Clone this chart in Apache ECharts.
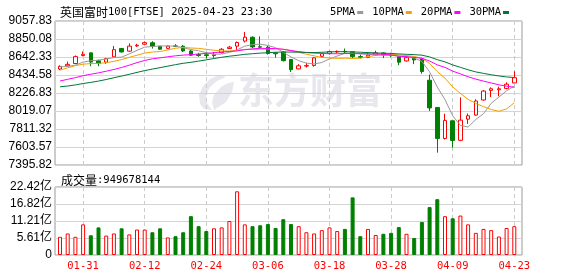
<!DOCTYPE html>
<html><head><meta charset="utf-8">
<script src="https://cdn.jsdelivr.net/npm/echarts@6/dist/echarts.min.js"></script>
<style>html,body{margin:0;padding:0;background:#fff;}#c{width:578px;height:276px;}</style>
</head><body><div id="c"></div>
<script>
const dates = ['2025-01-28','2025-01-29','2025-01-30','2025-01-31','2025-02-03','2025-02-04','2025-02-05','2025-02-06','2025-02-07','2025-02-10','2025-02-11','2025-02-12','2025-02-13','2025-02-14','2025-02-17','2025-02-18','2025-02-19','2025-02-20','2025-02-21','2025-02-24','2025-02-25','2025-02-26','2025-02-27','2025-02-28','2025-03-03','2025-03-04','2025-03-05','2025-03-06','2025-03-07','2025-03-10','2025-03-11','2025-03-12','2025-03-13','2025-03-14','2025-03-17','2025-03-18','2025-03-19','2025-03-20','2025-03-21','2025-03-24','2025-03-25','2025-03-26','2025-03-27','2025-03-28','2025-03-31','2025-04-01','2025-04-02','2025-04-03','2025-04-04','2025-04-07','2025-04-08','2025-04-09','2025-04-10','2025-04-11','2025-04-14','2025-04-15','2025-04-16','2025-04-17','2025-04-22','2025-04-23'];
const opens = [8503.7,8540,8567,8660,8690,8598,8583,8644,8741,8710,8770,8790,8807,8765,8742,8770,8767,8712,8670,8668,8659,8692,8740,8768,8826,8871,8760,8756,8690,8700,8613,8505,8538,8545,8650,8683,8700,8707,8702,8647,8638,8664,8689,8666,8645,8597,8635,8622,8374,8060,7702,7906,7681,7925,7972,8146,8257,8264,8280,8343];
const closes = [8533.87,8557.81,8646.88,8673.96,8583.56,8570.77,8623.29,8727.28,8700.53,8767.80,8777.39,8807.44,8764.72,8732.46,8768.01,8766.77,8712.53,8663.02,8659.37,8658.98,8668.67,8731.46,8756.21,8809.74,8871.31,8759.00,8755.84,8682.84,8679.88,8600.22,8495.99,8540.97,8542.56,8632.33,8680.29,8705.23,8706.66,8701.99,8646.79,8638.01,8663.80,8689.59,8666.12,8658.85,8582.81,8634.80,8608.48,8474.74,8054.98,7702.08,7910.53,7679.48,7913.25,7964.18,8134.34,8249.22,8275.60,8275.66,8328.60,8403.18];
const lows = [8490,8536,8563,8650,8536,8536,8563,8640,8695,8705,8760,8785,8740,8725,8735,8760,8700,8655,8645,8625,8635,8685,8735,8722,8810,8745,8740,8670,8635,8590,8470,8500,8520,8530,8640,8670,8690,8680,8630,8625,8630,8655,8630,8640,8547,8590,8560,8450,8020,7538,7690,7596,7670,7870,7965,8140,8180,8190,8270,8340];
const highs = [8547,8590,8660,8706,8694,8610,8632,8770,8745,8800,8795,8822,8825,8770,8775,8790,8780,8720,8690,8690,8700,8745,8770,8821,8930,8880,8880,8770,8695,8710,8615,8560,8575,8640,8690,8715,8718,8740,8705,8670,8700,8715,8695,8690,8650,8660,8640,8633,8440,8060,7987,7910,8176,7990,8155,8262,8292,8300,8350,8478];
// closes of the 29 sessions before the window (for the moving averages)
const prevCloses = [8300,8262,8195,8199,8105,8084,8102,8137,8149,8121,8173,8260,8224,8249,8245,8251,8319,8248,8224,8201,8301,8391,8505,8520,8548,8545,8565,8502,8503.7];
// volume in 亿 (1e8 shares)
const volumes = [6.0,7.1,6.0,10.1,6.5,9.1,6.4,7.1,8.8,6.8,8.4,8.4,7.5,8.8,5.8,6.2,7.5,12.8,9.5,7.9,8.8,9.1,11.2,21.0,10.1,9.5,9.8,10.2,8.9,11.8,10.2,9.5,7.5,7.1,8.2,9.1,7.9,8.6,19.0,6.2,8.6,6.6,7.0,7.3,9.2,7.0,5.6,10.9,15.8,18.4,12.8,12.1,13.0,10.1,7.3,8.6,8.2,6.1,8.9,9.49678144];
const priceTicks = [7395.82,7603.57,7811.32,8019.07,8226.83,8434.58,8642.33,8850.08,9057.83];
const volTicks = [0,5.605,11.21,16.815,22.42];
const volTickLabels = ['0','5.61亿','11.21亿','16.82亿','22.42亿'];
const maPeriods = [5,10,20,30];
const maNames = ['5PMA','10PMA','20PMA','30PMA'];
const maColors = ['#999999','#f5a000','#ff00ff','#00763a'];

const allCloses = prevCloses.concat(closes);
function ma(n){
  const out=[];
  for(let i=0;i<closes.length;i++){
    const end = prevCloses.length + i;
    let s=0; for(let k=end-n+1;k<=end;k++) s+=allCloses[k];
    out.push(+(s/n).toFixed(2));
  }
  return out;
}
const labelIdx = (i)=> i % 8 === 3;
const kData = dates.map((d,i)=>[opens[i],closes[i],lows[i],highs[i]]);
const volData = volumes.map((v,i)=>{
  const up = closes[i] >= opens[i];
  return {value:v, itemStyle: up ? {color:'#ffffff', borderColor:'#ff0000', borderWidth:1} : {color:'#008000', borderColor:'#008000', borderWidth:1}};
});
const mono = 'DejaVu Sans Mono';
const cjk = 'Noto Sans CJK SC';
const wm = '#e7e7ed';
const chart = echarts.init(document.getElementById('c'), null, {renderer:'canvas'});
const option = {
  animation:false,
  backgroundColor:'#fff',
  title:[
    {left:55, top:1, text:'{a|英国富时}{b|100[FTSE] 2025-04-23 23:30}',
     textStyle:{fontWeight:'normal', rich:{a:{fontFamily:cjk,fontSize:12,color:'#000',fontWeight:'normal'},b:{fontFamily:mono,fontSize:10.5,color:'#000',fontWeight:'normal'}}}},
    {left:56, top:169, text:'{a|成交量}{b|:' + Math.round(volumes[volumes.length-1]*1e8) + '}',
     textStyle:{fontWeight:'normal', rich:{a:{fontFamily:cjk,fontSize:12,color:'#000',fontWeight:'normal'},b:{fontFamily:mono,fontSize:10.5,color:'#000',fontWeight:'normal'}}}}
  ],
  legend:{right:64, top:2, align:'right', icon:'rect', itemWidth:6, itemHeight:3, itemGap:9,
    data:maNames, textStyle:{fontFamily:mono, fontSize:10.5, color:'#000', padding:[0,-3,0,0]}},
  graphic:[
    {type:'polygon', silent:true, z:0, shape:{points:[[219,75],[210,79],[203,86],[199,95],[200,104],[204,109],[212,110],[207,103],[206,95],[210,87],[217,81],[226,77]]}, style:{fill:wm}},
    {type:'polygon', silent:true, z:0, shape:{points:[[214,110],[212,102],[214,95],[221,87],[228,83],[234,82],[232,92],[226,102]]}, style:{fill:wm}},
    {type:'text', left:238, top:72, silent:true, z:0,
    style:{text:'东方财富', font:'bold 36px "Noto Sans CJK SC"', fill:wm}}],
  grid:[
    {left:55, top:21, width:467, height:144, show:true, borderColor:'#9a9a9a', borderWidth:1, backgroundColor:'transparent'},
    {left:60, top:21, width:454.3, height:144},
    {left:55, top:187, width:467, height:68, show:true, borderColor:'#9a9a9a', borderWidth:1, backgroundColor:'transparent'},
    {left:60, top:187, width:454.3, height:68}
  ],
  xAxis:[
    {type:'value', gridIndex:0, show:false, min:0, max:1},
    {type:'category', gridIndex:1, data:dates, boundaryGap:false, axisLine:{show:false}, axisTick:{show:false}, axisLabel:{show:false},
     splitLine:{show:true, interval:(i)=>labelIdx(i), lineStyle:{color:'#cccccc', type:[4,3]}}},
    {type:'value', gridIndex:2, show:false, min:0, max:1},
    {type:'category', gridIndex:3, data:dates, boundaryGap:false, axisLine:{show:false}, axisTick:{show:false},
     axisLabel:{interval:(i)=>labelIdx(i), formatter:(v)=>v.slice(5), color:'#ff0000', fontFamily:mono, fontSize:10.5, margin:6},
     splitLine:{show:true, interval:(i)=>labelIdx(i), lineStyle:{color:'#cccccc', type:[4,3]}}}
  ],
  yAxis:[
    {type:'value', gridIndex:0, min:0, max:priceTicks.length-1, interval:1, axisLine:{show:false}, axisTick:{show:false},
     axisLabel:{formatter:(v)=>priceTicks[v].toFixed(2), margin:3, fontFamily:'Liberation Sans', fontSize:12, color:'#000'},
     splitLine:{lineStyle:{color:'#d4d4d4'}}},
    {type:'value', gridIndex:1, min:priceTicks[0], max:priceTicks[priceTicks.length-1], show:false},
    {type:'value', gridIndex:2, min:0, max:volTicks.length-1, interval:1, axisLine:{show:false}, axisTick:{show:false},
     axisLabel:{formatter:(v)=>volTickLabels[v], margin:3, fontFamily:'Liberation Sans, Noto Sans CJK SC', fontSize:12, color:'#000'},
     splitLine:{lineStyle:{color:'#d4d4d4'}}},
    {type:'value', gridIndex:3, min:volTicks[0], max:volTicks[volTicks.length-1], show:false}
  ],
  series:[
    {type:'candlestick', xAxisIndex:1, yAxisIndex:1, data:kData, barWidth:4, clip:false, z:3,
     itemStyle:{color:'#ffffff', color0:'#008000', borderColor:'#ff0000', borderColor0:'#008000', borderWidth:1}},
    ...maPeriods.map((n,k)=>({type:'line', name:maNames[k], xAxisIndex:1, yAxisIndex:1, data:ma(n), showSymbol:false, symbol:'none',
      color:maColors[k], lineStyle:{width:1, color:maColors[k]}, z:4, clip:false})),
    {type:'bar', xAxisIndex:3, yAxisIndex:3, data:volData, barWidth:4, clip:false}
  ]
};
chart.setOption(option);
</script></body></html>
